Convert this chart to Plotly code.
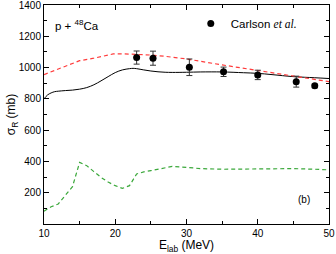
import plotly.graph_objects as go

# Black solid curve
e_solid = [10, 10.5, 11, 11.5, 12, 13, 14, 15, 16, 17, 18, 19, 20, 21, 22, 22.5, 23, 24, 25, 26, 27, 28, 30, 32, 35, 38, 40, 42, 45, 48, 50]
s_solid = [800, 825, 838, 846, 849, 853, 856, 862, 872, 890, 915, 942, 968, 985, 993, 995, 993, 985, 978, 973, 970, 969, 970, 972, 972, 967, 963, 955, 942, 935, 930]

# Red dashed curve
e_red = [10, 12.2, 15, 17, 19.7, 21, 23.5, 25, 27, 30, 35, 40, 45, 50]
s_red = [955, 995, 1044, 1060, 1087, 1088, 1085, 1080, 1072, 1055, 1017, 980, 946, 910]

# Green dashed curve
e_green = [10, 11, 12, 13, 14, 15, 16, 17, 18, 19, 20, 21, 22, 23, 24, 25, 26, 27, 28, 30, 32, 35, 38, 40, 42, 45, 48, 50]
s_green = [82, 110, 128, 180, 239, 394, 373, 335, 298, 268, 245, 228, 245, 320, 333, 341, 350, 362, 368, 362, 354, 350, 352, 352, 353, 354, 350, 346]

# Carlson et al. data
e_exp = [23.0, 25.3, 30.4, 35.2, 40.0, 45.4, 48.0]
s_exp = [1064, 1060, 1002, 973, 953, 910, 883]
s_err = [42, 45, 53, 30, 30, 35, 12]

fig = go.Figure()
fig.add_trace(go.Scatter(x=e_solid, y=s_solid, mode="lines", line=dict(color="black", width=1),
                         showlegend=False, line_shape="spline"))
fig.add_trace(go.Scatter(x=e_red, y=s_red, mode="lines", line=dict(color="#ff3b3b", width=1.2, dash="4px,3px"),
                         showlegend=False))
fig.add_trace(go.Scatter(x=e_green, y=s_green, mode="lines", line=dict(color="#3aa83a", width=1.2, dash="4px,3px"),
                         showlegend=False))
fig.add_trace(go.Scatter(x=e_exp, y=s_exp, mode="markers",
                         marker=dict(color="black", size=7),
                         error_y=dict(type="data", array=s_err, color="#333333", thickness=1, width=3),
                         name='Carlson <span style="font-family:\'Liberation Serif\', serif"><i>et al.</i></span>',
                         showlegend=True))

axis_common = dict(showline=True, linecolor="black", linewidth=1, mirror="ticks",
                   ticks="inside", ticklen=5, tickcolor="black", showgrid=False, zeroline=False,
                   automargin=False, ticklabeloverflow="allow",
                   tickfont=dict(family="Liberation Sans, Arial", size=10, color="black"))

fig.update_xaxes(range=[10, 50], tickvals=[10, 20, 30, 40, 50],
                 minor=dict(dtick=5, ticks="inside", ticklen=3, tickcolor="black"),
                 title=dict(text="E<sub>lab</sub> (MeV)", font=dict(family="Liberation Sans, Arial", size=12, color="black"), standoff=2),
                 **axis_common)
fig.update_yaxes(range=[0, 1400], tickvals=[200, 400, 600, 800, 1000, 1200, 1400],
                 minor=dict(dtick=100, ticks="inside", ticklen=3, tickcolor="black"),
                 title=dict(text="σ<sub>R</sub> (mb)", font=dict(family="Liberation Sans, Arial", size=12, color="black"), standoff=0),
                 **axis_common)

fig.add_annotation(x=0.03, y=0.91, xref="paper", yref="paper", xanchor="left", yanchor="middle",
                   text="p + <sup>48</sup>Ca", showarrow=False,
                   font=dict(family="Liberation Sans, Arial", size=11.5, color="black"))
fig.add_annotation(x=0.885, y=0.11, xref="paper", yref="paper", xanchor="left", yanchor="middle",
                   text="(b)", showarrow=False,
                   font=dict(family="Liberation Sans, Arial", size=10, color="black"))

fig.update_layout(
    width=336, height=254,
    margin=dict(l=44, r=7, t=5, b=30),
    plot_bgcolor="white", paper_bgcolor="white",
    legend=dict(x=0.515, y=0.915, xanchor="left", yanchor="middle", bgcolor="rgba(0,0,0,0)",
                font=dict(family="Liberation Sans, Arial", size=11.5, color="black"),
                itemwidth=30, tracegroupgap=0),
)

fig.write_html("out.html", config={"displayModeBar": False},
               post_script="document.body.style.margin='0';")
